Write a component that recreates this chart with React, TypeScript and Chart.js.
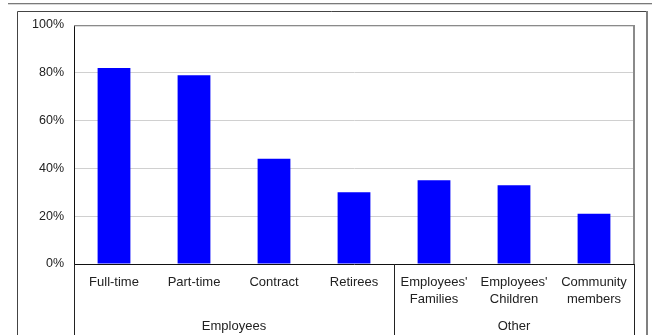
import React, { useEffect, useRef } from "react";
import { Chart, registerables } from "chart.js";

Chart.register(...registerables);

const categories: (string | string[])[] = [
  "Full-time",
  "Part-time",
  "Contract",
  "Retirees",
  ["Employees'", "Families"],
  ["Employees'", "Children"],
  ["Community", "members"],
];
const values = [82, 79, 44, 30, 35, 33, 21];
const groupLabels = ["Employees", "Other"];
const groupSizes = [4, 3];
const yTicks = [0, 20, 40, 60, 80, 100];

const FONT = "'Liberation Sans', Arial, Helvetica, sans-serif";

const decor = {
  id: "decor",
  afterDraw(chart: any) {
    const { ctx, chartArea: a, scales } = chart;
    const x = scales.x;
    const H = chart.height;
    ctx.save();
    // top rule
    ctx.fillStyle = "#7a7a7a";
    ctx.fillRect(8, 3, 644, 1.3);
    // outer box
    ctx.strokeStyle = "#444";
    ctx.lineWidth = 1;
    ctx.beginPath();
    ctx.moveTo(17.5, H);
    ctx.lineTo(17.5, 11.5);
    ctx.lineTo(646, 11.5);
    ctx.stroke();
    ctx.fillStyle = "#808080";
    ctx.fillRect(646, 11, 2, H - 11);
    // plot top / right border
    ctx.fillStyle = "#8a8a8a";
    ctx.fillRect(a.left, a.top, a.right - a.left, 1.3);
    ctx.fillRect(a.right - 1, a.top, 2, a.bottom - a.top);
    // group separators and labels
    const half = (x.getPixelForValue(1) - x.getPixelForValue(0)) / 2;
    ctx.strokeStyle = "#222";
    ctx.lineWidth = 1;
    let start = 0;
    const edges: number[] = [];
    groupSizes.forEach((n, gi) => {
      const l = x.getPixelForValue(start) - half;
      const r = x.getPixelForValue(start + n - 1) + half;
      edges.push(l, r);
      ctx.fillStyle = "#222";
      ctx.font = `13px ${FONT}`;
      ctx.textAlign = "center";
      ctx.textBaseline = "middle";
      ctx.fillText(groupLabels[gi], (l + r) / 2, 326);
      start += n;
    });
    Array.from(new Set(edges.map((e) => Math.round(e)))).forEach((e) => {
      ctx.beginPath();
      ctx.moveTo(e + 0.5, a.bottom);
      ctx.lineTo(e + 0.5, H);
      ctx.stroke();
    });
    ctx.restore();
  },
};

export default function App() {
  const ref = useRef<HTMLCanvasElement>(null);
  useEffect(() => {
    if (!ref.current) return;
    const chart = new Chart(ref.current, {
      type: "bar",
      data: {
        labels: categories,
        datasets: [
          {
            data: values,
            backgroundColor: "#0000FF",
            borderWidth: 0,
            barPercentage: 0.41,
            categoryPercentage: 1,
          },
        ],
      },
      options: {
        responsive: false,
        animation: false,
        devicePixelRatio: 1,
        layout: { padding: { left: 0, right: 22, top: 25, bottom: 0 } },
        plugins: { legend: { display: false }, tooltip: { enabled: false }, title: { display: false } },
        scales: {
          x: {
            grid: { display: false, drawTicks: false },
            border: { color: "#111", width: 1 },
            ticks: {
              color: "#222",
              font: { family: FONT, size: 13, lineHeight: 1.3 },
              padding: 10,
              autoSkip: false,
              maxRotation: 0,
              minRotation: 0,
            },
            afterFit: (s: any) => {
              s.height = 71;
            },
          },
          y: {
            min: 0,
            max: 100,
            afterBuildTicks: (s: any) => {
              s.ticks = yTicks.map((v) => ({ value: v }));
            },
            grid: {
              drawTicks: false,
              color: (c: any) =>
                c.tick && (c.tick.value === 0 || c.tick.value === 100) ? "rgba(0,0,0,0)" : "#d0d0d0",
            },
            border: { color: "#111", width: 1 },
            ticks: {
              color: "#222",
              font: { family: FONT, size: 12.5 },
              padding: 10,
              callback: (v: any) => `${v}%`,
            },
            afterFit: (s: any) => {
              s.width = 74;
            },
          },
        },
      },
      plugins: [decor],
    });
    return () => chart.destroy();
  }, []);
  return (
    <div style={{ position: "fixed", left: 0, top: 0, width: 656, height: 335, background: "#fff" }}>
      <canvas ref={ref} width={656} height={335} style={{ display: "block" }} />
    </div>
  );
}
